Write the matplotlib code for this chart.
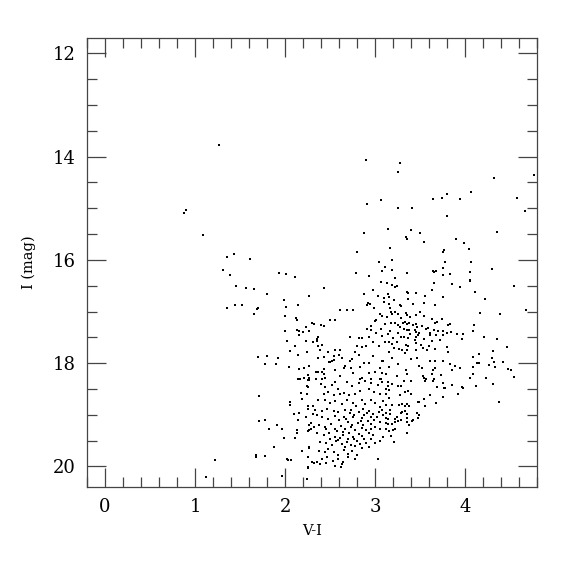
import matplotlib
matplotlib.use('Agg')
import matplotlib.pyplot as plt
import numpy as np
from matplotlib.ticker import MultipleLocator

# colour-magnitude diagram, values
pts_sparse = [(1.27,13.78),(0.90,15.03),(0.88,15.09),(1.09,15.52),(1.36,15.94),(1.43,15.89),(1.61,15.99),
    (1.31,16.20),(1.39,16.29),(1.46,16.50),(1.57,16.55),(1.65,16.57),(1.80,16.67),(1.93,16.25),(2.01,16.28),
    (1.99,16.77),(1.35,16.93),(1.44,16.88),(1.52,16.87),(1.70,16.93),(1.69,16.96),(1.66,17.04),(2.00,17.08),
    (2.01,16.91),(1.22,19.88),(1.12,20.20),(4.38,18.75)]

pts_upper = [(2.90,14.06),(3.28,14.12),(3.26,14.30),(4.32,14.42),(4.77,14.35),(4.07,14.68),(3.80,14.73),
    (3.74,14.81),(3.64,14.82),(3.94,14.82),(3.07,14.84),(2.91,14.91),(3.26,14.99),(3.41,15.00),(4.58,14.80),
    (4.67,15.06),(3.80,15.15),(2.88,15.47),(3.14,15.40),(3.40,15.43),(3.50,15.47),(3.34,15.55),(3.35,15.59),
    (3.54,15.65),(4.36,15.45),(3.90,15.60),(3.99,15.68),(4.04,15.78),(3.17,15.76),(2.80,15.85),(3.77,15.80),
    (3.75,15.85),(3.04,16.04),(3.19,16.01),(3.78,16.04),(4.07,16.04),(3.11,16.13),(3.08,16.21),(3.19,16.19),
    (2.79,16.25),(2.93,16.32),(3.35,16.25),(3.22,16.36),(3.64,16.21),(3.66,16.23),(3.68,16.21),(3.75,16.16),
    (3.76,16.30),(3.83,16.27),(4.06,16.23),(4.30,16.18),(4.06,16.39),(2.11,16.33)]

pts_blue = [(2.43,16.55),(2.27,16.70),(2.14,16.88),(2.61,16.97),(2.12,17.12),(2.13,17.17),(2.50,17.17),
    (2.55,17.17),(2.30,17.23),(2.32,17.25),(2.40,17.26),(2.43,17.28),(2.23,17.30),(2.00,17.37),(2.13,17.35),
    (2.15,17.38),(2.20,17.39),(2.27,17.37),(2.16,17.46),(2.37,17.49),(2.36,17.54),(2.02,17.58),(2.23,17.58),
    (2.31,17.59),(2.35,17.57),(2.41,17.64),(2.11,17.67),(2.37,17.66),(2.39,17.74),(2.05,17.77),(2.24,17.79),
    (2.48,17.79),(2.55,17.75),(2.61,17.74),(2.14,17.85),(2.60,17.84),(1.70,17.88),(1.80,17.87),(1.92,17.91),
    (2.37,17.91),(2.43,17.89),(2.54,17.86),(2.54,17.94),(2.49,17.97),(2.50,17.98),(2.52,17.96),(1.78,18.02),
    (1.90,18.01),(2.63,17.91),(2.04,18.08),(2.15,18.12),(2.21,18.10),(2.27,18.06),(2.43,18.11),(2.55,18.14),
    (2.65,18.10),(2.34,18.18),(2.36,18.18),(2.37,18.17),(2.41,18.18),(2.43,18.22),(2.61,18.25),(2.26,18.23),
    (2.27,18.28),(2.17,18.31),(2.21,18.28),(2.14,18.31),(2.27,18.32),(2.34,18.31),(2.41,18.30),(2.44,18.29)]

pts_red = [(3.07,16.42),(3.13,16.44),(3.19,16.48),(3.22,16.53),(3.24,16.50),(3.66,16.45),(2.88,16.66),
    (2.98,16.59),(3.03,16.69),(3.10,16.73),(3.14,16.67),(3.15,16.71),(3.36,16.62),(3.37,16.64),(3.45,16.64),
    (3.56,16.70),(3.63,16.59),(3.75,16.72),(3.21,16.77),(3.37,16.76),(2.92,16.83),(2.94,16.85),(2.91,16.87),
    (3.10,16.81),(3.15,16.86),(3.17,16.93),(3.28,16.87),(3.29,16.90),(3.42,16.85),(3.54,16.84),(3.67,16.88),
    (2.69,16.97),(2.75,16.97),(2.99,16.94),(3.06,17.04),(3.18,17.01),(3.19,17.05),(3.22,17.01),(3.25,17.04),
    (3.34,17.03),(3.36,17.06),(3.45,17.06),(3.50,17.00),(3.54,17.09),(3.08,17.09),(3.13,17.11),(3.01,17.17),
    (3.00,17.19),(3.29,17.12),(3.39,17.11),(3.63,17.15),(3.74,17.15),(3.67,17.22),(3.69,17.20),(3.31,17.22),
    (3.33,17.20),(3.35,17.24),(3.38,17.22),(3.42,17.27),(3.45,17.24),(3.47,17.30),(3.11,17.25),(3.18,17.22),
    (3.22,17.22),(3.25,17.27),(2.96,17.28),(3.07,17.33),(3.28,17.30),(3.32,17.33),(3.36,17.35),(3.38,17.36),
    (3.44,17.35),(3.45,17.40),(3.52,17.29),(3.57,17.34),(3.59,17.31),(3.66,17.36),(3.70,17.38),(3.76,17.38),
    (2.91,17.33),(2.96,17.36),(3.01,17.41),(3.14,17.43),(3.17,17.38),(3.26,17.41),(3.39,17.43),(3.49,17.41),
    (3.48,17.46),(3.61,17.41),(3.61,17.46),(3.68,17.45),(3.76,17.46),(2.72,17.50),(2.82,17.51),(2.85,17.52),
    (2.93,17.49),(3.08,17.48),(3.20,17.52),(3.29,17.49),(3.32,17.50),(3.37,17.52),(3.45,17.50),(3.44,17.55),
    (3.54,17.54),(3.63,17.58),(3.72,17.56),(2.98,17.60),(3.11,17.60),(3.16,17.59),(3.19,17.62),(3.24,17.60),
    (3.34,17.64),(3.37,17.67),(3.46,17.61),(3.51,17.65),(3.53,17.71),(3.60,17.66),(2.80,17.67),(2.85,17.69),
    (2.90,17.67),(3.04,17.67),(3.21,17.71),(3.27,17.72),(3.30,17.75),(3.36,17.75),(3.45,17.75),(3.58,17.75),
    (3.67,17.72),(2.78,17.78),(3.16,17.79),(3.33,17.80),(2.82,17.85),(2.98,17.87),(2.72,17.95),(2.74,17.92),
    (3.09,17.95),(3.08,17.96),(3.19,17.91),(3.40,17.92),(3.47,17.90),(3.61,17.96),(3.67,17.96),(3.75,17.96),
    (2.88,18.00),(2.93,18.00),(3.26,18.01),(3.49,18.05),(2.67,18.06),(2.73,18.10),(2.83,18.08),(3.05,18.10),
    (3.16,18.08),(3.34,18.13),(3.52,18.09),(3.64,18.13),(3.67,18.09),(2.75,18.19),(2.93,18.20),(3.00,18.18),
    (3.08,18.19),(3.12,18.22),(3.24,18.25),(3.35,18.22),(3.53,18.25),(3.63,18.22),(3.73,18.23),(2.83,18.31),
    (2.86,18.29),(2.95,18.31),(3.05,18.31),(3.07,18.31),(3.54,18.29),(3.57,18.31),(3.65,18.31)]

pts_right = [(3.86,16.47),(3.94,16.52),(4.06,16.41),(4.11,16.62),(4.54,16.50),(4.22,16.75),(4.17,17.02),
    (4.39,17.04),(4.68,16.97),(3.81,17.26),(3.83,17.25),(4.10,17.26),(4.09,17.37),(3.80,17.42),(3.84,17.39),
    (3.91,17.44),(3.98,17.43),(3.97,17.53),(4.21,17.49),(4.35,17.54),(3.80,17.68),(4.47,17.69),(3.81,17.78),
    (4.31,17.77),(4.15,17.83),(4.09,17.89),(4.30,17.90),(4.13,17.99),(4.16,18.00),(4.32,17.98),(4.42,17.98),
    (4.27,18.04),(3.83,18.02),(3.89,18.06),(3.94,18.10),(3.86,18.13),(4.09,18.07),(4.33,18.08),(4.48,18.11),
    (4.51,18.13),(4.09,18.22),(4.06,18.28),(4.23,18.28),(4.54,18.27),(4.31,18.40),(3.86,18.42),(4.12,18.45),
    (3.98,18.49),(3.78,18.49),(3.92,18.60)]

pts_faint_blue = [(1.71,18.63),(2.18,18.57),(2.19,18.70),(2.24,18.60),(2.24,18.45),(2.25,18.47),(2.26,18.33),
    (2.06,18.76),(2.06,18.82),(2.25,18.83),(2.26,18.88),(2.31,18.83),(2.10,18.99),(2.15,18.97),(2.23,19.05),
    (2.14,19.11),(2.29,19.15),(2.27,19.20),(2.32,19.24),(2.25,19.31),(2.27,19.30),(2.29,19.27),(1.71,19.12),
    (1.78,19.10),(1.82,19.27),(1.91,19.20),(1.97,19.28),(2.13,19.30),(2.13,19.35),(1.99,19.45),(2.11,19.45),
    (2.19,19.71),(2.27,19.62),(2.27,19.65),(1.88,19.62),(1.68,19.78),(1.68,19.82),(1.78,19.79),(2.02,19.86),
    (2.03,19.88),(2.07,19.88),(2.26,19.82),(2.30,19.92),(2.32,19.93),(2.25,20.02),(2.26,20.04),(1.97,20.18),
    (2.24,20.24),(2.31,18.99)]

pts_faint_mid = [(2.40,18.41),(2.44,18.47),(2.52,18.42),(2.56,18.36),(2.59,18.50),(2.69,18.36),(2.74,18.45),
    (2.82,18.38),(2.89,18.35),(2.96,18.38),(3.03,18.43),(3.08,18.36),(2.48,18.56),(2.43,18.59),(2.54,18.62),
    (2.61,18.60),(2.66,18.58),(2.71,18.62),(2.78,18.59),(2.83,18.54),(2.93,18.51),(2.99,18.56),(3.06,18.60),
    (2.37,18.72),(2.44,18.71),(2.50,18.77),(2.56,18.73),(2.63,18.80),(2.69,18.72),(2.76,18.77),(2.79,18.83),
    (2.85,18.71),(2.89,18.80),(2.95,18.72),(3.00,18.78),(3.05,18.85),(3.09,18.73),(2.41,18.92),(2.47,18.88),
    (2.54,18.92),(2.59,18.94),(2.67,18.90),(2.73,18.91),(2.82,18.94),(2.87,18.88),(2.93,18.92),(2.98,18.98),
    (3.04,18.94),(3.08,18.90),(2.33,18.90),(2.35,19.01),(2.41,19.05),(2.48,19.09),(2.55,19.03),(2.60,19.10),
    (2.65,19.04),(2.70,19.14),(2.76,19.05),(2.81,19.16),(2.86,19.07),(2.92,19.12),(2.96,19.17),(3.02,19.04),
    (3.06,19.14),(3.09,19.01),(2.38,19.20),(2.44,19.23),(2.51,19.18),(2.56,19.27),(2.62,19.22),(2.67,19.28),
    (2.73,19.23),(2.78,19.30),(2.85,19.25),(2.90,19.30),(2.96,19.27),(3.00,19.23),(3.06,19.28),(2.36,19.36),
    (2.43,19.39),(2.49,19.35),(2.55,19.43),(2.59,19.48),(2.64,19.39),(2.70,19.46),(2.75,19.43),(2.80,19.50),
    (2.85,19.41),(2.90,19.54),(2.95,19.46),(3.00,19.55),(3.05,19.50),(3.09,19.43),(2.39,19.52),(2.46,19.54),
    (2.52,19.59),(2.57,19.50),(2.63,19.57),(2.69,19.53),(2.73,19.59),(2.38,19.70),(2.44,19.73),(2.48,19.67),
    (2.54,19.72),(2.59,19.78),(2.65,19.68),(2.70,19.76),(2.74,19.70),(2.80,19.78),(2.85,19.65),(2.41,19.86),
    (2.47,19.82),(2.53,19.89),(2.59,19.86),(2.64,19.91),(2.70,19.82),(2.78,19.86),(2.35,19.91),(2.39,19.95),
    (2.46,19.94),(2.56,19.99),(2.63,19.95),(3.03,19.86),(2.62,20.02)]

# extra stars in the densest clump near V-I 2.6-3.0, I 18.8-19.6
pts_clump = [(2.72,18.97),(2.77,19.00),(2.88,19.01),(2.91,18.96),(2.95,19.05),(2.68,19.09),(2.84,19.12),
    (2.99,19.10),(2.74,19.19),(2.87,19.20),(2.58,19.32),(2.64,19.34),(2.71,19.36),(2.82,19.37),(2.93,19.36),
    (2.61,19.45),(2.77,19.47),(2.88,19.46),(2.98,19.40),(2.67,19.62),(2.78,19.61),(2.83,19.56),(2.93,19.62),
    (2.50,19.47),(2.46,19.28)]

pts_faint_red = [(3.14,18.36),(3.19,18.41),(3.14,18.45),(3.32,18.34),(3.40,18.35),(3.55,18.34),(3.64,18.35),
    (3.75,18.38),(3.86,18.42),(3.69,18.47),(3.77,18.49),(3.97,18.47),(3.26,18.44),(3.29,18.44),(3.12,18.51),
    (3.16,18.53),(3.12,18.60),(3.28,18.62),(3.33,18.56),(3.37,18.54),(3.40,18.59),(3.61,18.61),(3.75,18.65),
    (3.92,18.59),(3.16,18.67),(3.54,18.70),(3.48,18.76),(3.49,18.76),(3.68,18.78),(3.56,18.83),(3.12,18.81),
    (3.19,18.81),(3.27,18.81),(3.30,18.80),(3.35,18.80),(3.33,18.83),(3.38,18.83),(3.17,18.91),(3.12,18.96),
    (3.17,18.98),(3.29,18.96),(3.30,18.94),(3.33,18.92),(3.35,18.98),(3.47,18.97),(3.49,19.00),(3.24,19.04),
    (3.48,19.06),(3.12,19.07),(3.14,19.09),(3.22,19.09),(3.25,19.12),(3.29,19.11),(3.36,19.07),(3.42,19.10),
    (3.41,19.12),(3.36,19.14),(3.12,19.16),(3.14,19.18),(3.19,19.17),(3.22,19.14),(3.38,19.19),(3.12,19.27),
    (3.15,19.31),(3.20,19.30),(3.22,19.28),(3.36,19.35),(3.18,19.41),(3.21,19.52)]

all_pts = (pts_sparse + pts_upper + pts_blue + pts_red + pts_right + pts_faint_blue
           + pts_faint_mid + pts_clump + pts_faint_red)
vi = np.array([p[0] for p in all_pts])
imag = np.array([p[1] for p in all_pts])

plt.rcParams['font.family'] = ['DejaVu Serif']
fig = plt.figure(figsize=(5.75, 5.75), dpi=100)
ax = fig.add_axes([0.1513, 0.153, 0.7827, 0.781])
ax.scatter(vi, imag, s=3.5, marker='s', color='black', linewidths=0)

ax.set_xlim(-0.2, 4.8)
ax.set_ylim(20.4, 11.7)
ax.xaxis.set_major_locator(MultipleLocator(1))
ax.xaxis.set_minor_locator(MultipleLocator(0.2))
ax.yaxis.set_major_locator(MultipleLocator(2))
ax.yaxis.set_minor_locator(MultipleLocator(0.5))
ax.tick_params(which='both', direction='in', top=True, right=True, colors='#444444', labelcolor='black')
ax.tick_params(which='major', length=14, width=0.9, labelsize=13, pad=8)
ax.tick_params(which='minor', length=7, width=0.9)
for sp in ax.spines.values():
    sp.set_color('#444444')
    sp.set_linewidth(0.9)

ax.set_xlabel('V-I', fontsize=10.5, labelpad=6)
ax.set_ylabel('I (mag)', fontsize=10.5, labelpad=12)

fig.savefig('out.png', dpi=100)
